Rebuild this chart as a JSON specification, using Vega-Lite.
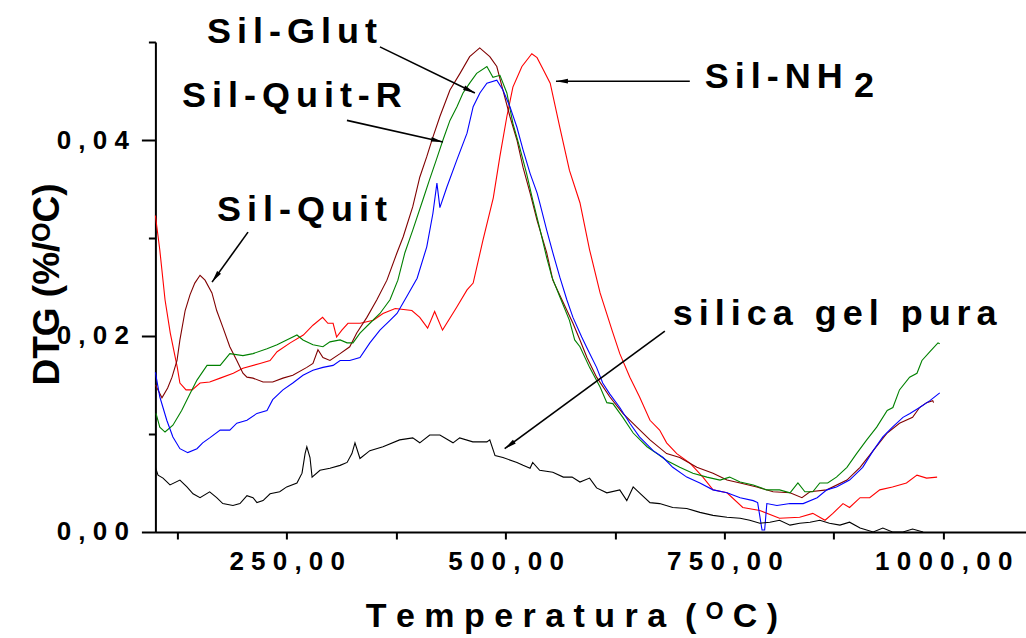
{
  "$schema": "https://vega.github.io/schema/vega-lite/v6.json",
  "width": 871,
  "height": 490,
  "autosize": "none",
  "padding": {"left": 155.4, "top": 42, "right": 0, "bottom": 106},
  "background": "white",
  "config": {"view": {"stroke": null}, "font": "Liberation Sans"},
  "datasets": {
    "curves": [
      {"s":"Sil-NH2","t":100,"d":0.0323},{"s":"Sil-NH2","t":105,"d":0.0288},{"s":"Sil-NH2","t":111,"d":0.0237},{"s":"Sil-NH2","t":117,"d":0.0203},{"s":"Sil-NH2","t":125,"d":0.0168},{"s":"Sil-NH2","t":128,"d":0.0152},{"s":"Sil-NH2","t":135,"d":0.0145},{"s":"Sil-NH2","t":142,"d":0.0145},{"s":"Sil-NH2","t":151,"d":0.0152},{"s":"Sil-NH2","t":162,"d":0.0153},{"s":"Sil-NH2","t":174,"d":0.0157},{"s":"Sil-NH2","t":189,"d":0.0162},{"s":"Sil-NH2","t":200,"d":0.0167},{"s":"Sil-NH2","t":219.5,"d":0.0172},{"s":"Sil-NH2","t":231,"d":0.0175},{"s":"Sil-NH2","t":239,"d":0.0184},{"s":"Sil-NH2","t":254,"d":0.0193},{"s":"Sil-NH2","t":269,"d":0.0201},{"s":"Sil-NH2","t":280,"d":0.0211},{"s":"Sil-NH2","t":291,"d":0.0219},{"s":"Sil-NH2","t":297,"d":0.0213},{"s":"Sil-NH2","t":303,"d":0.0213},{"s":"Sil-NH2","t":307,"d":0.0199},{"s":"Sil-NH2","t":313,"d":0.0206},{"s":"Sil-NH2","t":320,"d":0.0213},{"s":"Sil-NH2","t":334,"d":0.0213},{"s":"Sil-NH2","t":349,"d":0.0216},{"s":"Sil-NH2","t":360,"d":0.0223},{"s":"Sil-NH2","t":374,"d":0.0228},{"s":"Sil-NH2","t":393,"d":0.0226},{"s":"Sil-NH2","t":402,"d":0.0219},{"s":"Sil-NH2","t":411,"d":0.0208},{"s":"Sil-NH2","t":419,"d":0.0225},{"s":"Sil-NH2","t":428,"d":0.0206},{"s":"Sil-NH2","t":444,"d":0.0229},{"s":"Sil-NH2","t":456,"d":0.0247},{"s":"Sil-NH2","t":463,"d":0.0254},{"s":"Sil-NH2","t":474,"d":0.0297},{"s":"Sil-NH2","t":486,"d":0.0341},{"s":"Sil-NH2","t":493.5,"d":0.0383},{"s":"Sil-NH2","t":501.5,"d":0.0424},{"s":"Sil-NH2","t":508.4,"d":0.0454},{"s":"Sil-NH2","t":518.7,"d":0.0475},{"s":"Sil-NH2","t":530,"d":0.0488},{"s":"Sil-NH2","t":536,"d":0.0484},{"s":"Sil-NH2","t":543,"d":0.0472},{"s":"Sil-NH2","t":551,"d":0.0458},{"s":"Sil-NH2","t":562,"d":0.0413},{"s":"Sil-NH2","t":573,"d":0.0369},{"s":"Sil-NH2","t":585,"d":0.0336},{"s":"Sil-NH2","t":596,"d":0.0288},{"s":"Sil-NH2","t":608,"d":0.0244},{"s":"Sil-NH2","t":621.6,"d":0.0206},{"s":"Sil-NH2","t":630.5,"d":0.0182},{"s":"Sil-NH2","t":642,"d":0.0158},{"s":"Sil-NH2","t":653,"d":0.0138},{"s":"Sil-NH2","t":665,"d":0.0114},{"s":"Sil-NH2","t":676,"d":0.0104},{"s":"Sil-NH2","t":684,"d":0.0091},{"s":"Sil-NH2","t":695.6,"d":0.008},{"s":"Sil-NH2","t":711,"d":0.007},{"s":"Sil-NH2","t":725.5,"d":0.0056},{"s":"Sil-NH2","t":737,"d":0.0043},{"s":"Sil-NH2","t":753,"d":0.004},{"s":"Sil-NH2","t":771,"d":0.0025},{"s":"Sil-NH2","t":790.5,"d":0.0022},{"s":"Sil-NH2","t":813,"d":0.0014},{"s":"Sil-NH2","t":836,"d":0.0015},{"s":"Sil-NH2","t":851,"d":0.0019},{"s":"Sil-NH2","t":865,"d":0.0012},{"s":"Sil-NH2","t":874,"d":0.0019},{"s":"Sil-NH2","t":885.5,"d":0.0029},{"s":"Sil-NH2","t":893,"d":0.0025},{"s":"Sil-NH2","t":905,"d":0.0035},{"s":"Sil-NH2","t":916,"d":0.0035},{"s":"Sil-NH2","t":927.5,"d":0.0043},{"s":"Sil-NH2","t":942,"d":0.0046},{"s":"Sil-NH2","t":958,"d":0.005},{"s":"Sil-NH2","t":970,"d":0.0058},{"s":"Sil-NH2","t":981,"d":0.0055},{"s":"Sil-NH2","t":993,"d":0.0056},

      {"s":"Sil-Quit","t":100,"d":0.015},{"s":"Sil-Quit","t":103,"d":0.0145},{"s":"Sil-Quit","t":107.5,"d":0.0137},{"s":"Sil-Quit","t":114,"d":0.0147},{"s":"Sil-Quit","t":119,"d":0.0158},{"s":"Sil-Quit","t":124.7,"d":0.0175},{"s":"Sil-Quit","t":128,"d":0.0196},{"s":"Sil-Quit","t":134,"d":0.0226},{"s":"Sil-Quit","t":139.5,"d":0.0242},{"s":"Sil-Quit","t":145,"d":0.0254},{"s":"Sil-Quit","t":151,"d":0.0262},{"s":"Sil-Quit","t":156.7,"d":0.0257},{"s":"Sil-Quit","t":164.6,"d":0.0244},{"s":"Sil-Quit","t":170,"d":0.0226},{"s":"Sil-Quit","t":177,"d":0.0209},{"s":"Sil-Quit","t":185,"d":0.0189},{"s":"Sil-Quit","t":193,"d":0.0175},{"s":"Sil-Quit","t":200,"d":0.0162},{"s":"Sil-Quit","t":204.6,"d":0.0158},{"s":"Sil-Quit","t":211.5,"d":0.0157},{"s":"Sil-Quit","t":223,"d":0.0153},{"s":"Sil-Quit","t":234,"d":0.0153},{"s":"Sil-Quit","t":245.7,"d":0.0157},{"s":"Sil-Quit","t":257,"d":0.016},{"s":"Sil-Quit","t":273,"d":0.0168},{"s":"Sil-Quit","t":280,"d":0.0172},{"s":"Sil-Quit","t":285.7,"d":0.0186},{"s":"Sil-Quit","t":291.4,"d":0.0178},{"s":"Sil-Quit","t":299.4,"d":0.0175},{"s":"Sil-Quit","t":311,"d":0.0182},{"s":"Sil-Quit","t":322,"d":0.0189},{"s":"Sil-Quit","t":330,"d":0.0203},{"s":"Sil-Quit","t":341.6,"d":0.0219},{"s":"Sil-Quit","t":353,"d":0.0237},{"s":"Sil-Quit","t":364.5,"d":0.0257},{"s":"Sil-Quit","t":376,"d":0.0285},{"s":"Sil-Quit","t":383,"d":0.0301},{"s":"Sil-Quit","t":394,"d":0.0332},{"s":"Sil-Quit","t":402,"d":0.0362},{"s":"Sil-Quit","t":410,"d":0.0383},{"s":"Sil-Quit","t":417,"d":0.0403},{"s":"Sil-Quit","t":425,"d":0.0424},{"s":"Sil-Quit","t":436.5,"d":0.0451},{"s":"Sil-Quit","t":448,"d":0.0468},{"s":"Sil-Quit","t":459,"d":0.0485},{"s":"Sil-Quit","t":470.5,"d":0.0494},{"s":"Sil-Quit","t":482,"d":0.0485},{"s":"Sil-Quit","t":490,"d":0.0475},{"s":"Sil-Quit","t":497,"d":0.0451},{"s":"Sil-Quit","t":505,"d":0.0424},{"s":"Sil-Quit","t":513,"d":0.04},{"s":"Sil-Quit","t":520,"d":0.0372},{"s":"Sil-Quit","t":528,"d":0.0346},{"s":"Sil-Quit","t":536,"d":0.0318},{"s":"Sil-Quit","t":547,"d":0.0285},{"s":"Sil-Quit","t":554,"d":0.0257},{"s":"Sil-Quit","t":566,"d":0.0234},{"s":"Sil-Quit","t":577,"d":0.0213},{"s":"Sil-Quit","t":585,"d":0.0196},{"s":"Sil-Quit","t":593,"d":0.0178},{"s":"Sil-Quit","t":604,"d":0.0158},{"s":"Sil-Quit","t":619,"d":0.0138},{"s":"Sil-Quit","t":634,"d":0.0121},{"s":"Sil-Quit","t":650,"d":0.0107},{"s":"Sil-Quit","t":665,"d":0.0094},{"s":"Sil-Quit","t":684,"d":0.008},{"s":"Sil-Quit","t":699,"d":0.0076},{"s":"Sil-Quit","t":718.5,"d":0.0066},{"s":"Sil-Quit","t":737,"d":0.006},{"s":"Sil-Quit","t":753,"d":0.0053},{"s":"Sil-Quit","t":768,"d":0.005},{"s":"Sil-Quit","t":787,"d":0.0046},{"s":"Sil-Quit","t":805.6,"d":0.0041},{"s":"Sil-Quit","t":825,"d":0.004},{"s":"Sil-Quit","t":838.6,"d":0.0035},{"s":"Sil-Quit","t":847.8,"d":0.0041},{"s":"Sil-Quit","t":867,"d":0.0043},{"s":"Sil-Quit","t":890,"d":0.0053},{"s":"Sil-Quit","t":905,"d":0.0066},{"s":"Sil-Quit","t":920,"d":0.0083},{"s":"Sil-Quit","t":936,"d":0.0101},{"s":"Sil-Quit","t":950,"d":0.0111},{"s":"Sil-Quit","t":965,"d":0.0117},{"s":"Sil-Quit","t":973,"d":0.0127},{"s":"Sil-Quit","t":981,"d":0.0132},{"s":"Sil-Quit","t":988,"d":0.0134},{"s":"Sil-Quit","t":989,"d":0.0132},

      {"s":"Sil-Quit-R","t":100.7,"d":0.0121},{"s":"Sil-Quit-R","t":105,"d":0.0107},{"s":"Sil-Quit-R","t":111,"d":0.0102},{"s":"Sil-Quit-R","t":120,"d":0.0109},{"s":"Sil-Quit-R","t":130,"d":0.0124},{"s":"Sil-Quit-R","t":139.5,"d":0.0141},{"s":"Sil-Quit-R","t":147.5,"d":0.0155},{"s":"Sil-Quit-R","t":159,"d":0.017},{"s":"Sil-Quit-R","t":174,"d":0.017},{"s":"Sil-Quit-R","t":185,"d":0.0182},{"s":"Sil-Quit-R","t":200,"d":0.018},{"s":"Sil-Quit-R","t":211.5,"d":0.0182},{"s":"Sil-Quit-R","t":227.5,"d":0.0187},{"s":"Sil-Quit-R","t":239,"d":0.0191},{"s":"Sil-Quit-R","t":250,"d":0.0196},{"s":"Sil-Quit-R","t":261.7,"d":0.0201},{"s":"Sil-Quit-R","t":268.6,"d":0.0196},{"s":"Sil-Quit-R","t":280,"d":0.0191},{"s":"Sil-Quit-R","t":291.4,"d":0.0189},{"s":"Sil-Quit-R","t":299.4,"d":0.0194},{"s":"Sil-Quit-R","t":311,"d":0.0196},{"s":"Sil-Quit-R","t":319,"d":0.0193},{"s":"Sil-Quit-R","t":325.7,"d":0.0193},{"s":"Sil-Quit-R","t":333.7,"d":0.0203},{"s":"Sil-Quit-R","t":345,"d":0.0213},{"s":"Sil-Quit-R","t":356.5,"d":0.0223},{"s":"Sil-Quit-R","t":368,"d":0.0237},{"s":"Sil-Quit-R","t":377,"d":0.0257},{"s":"Sil-Quit-R","t":385,"d":0.0285},{"s":"Sil-Quit-R","t":394,"d":0.0308},{"s":"Sil-Quit-R","t":405.6,"d":0.0339},{"s":"Sil-Quit-R","t":413,"d":0.0359},{"s":"Sil-Quit-R","t":421,"d":0.038},{"s":"Sil-Quit-R","t":428.5,"d":0.04},{"s":"Sil-Quit-R","t":436.5,"d":0.042},{"s":"Sil-Quit-R","t":444.5,"d":0.0434},{"s":"Sil-Quit-R","t":451.4,"d":0.0448},{"s":"Sil-Quit-R","t":459,"d":0.0458},{"s":"Sil-Quit-R","t":467,"d":0.0468},{"s":"Sil-Quit-R","t":478.7,"d":0.0475},{"s":"Sil-Quit-R","t":485.6,"d":0.0464},{"s":"Sil-Quit-R","t":493.6,"d":0.0466},{"s":"Sil-Quit-R","t":501.5,"d":0.0448},{"s":"Sil-Quit-R","t":508.4,"d":0.0417},{"s":"Sil-Quit-R","t":516,"d":0.0393},{"s":"Sil-Quit-R","t":524,"d":0.0366},{"s":"Sil-Quit-R","t":531,"d":0.0339},{"s":"Sil-Quit-R","t":539,"d":0.031},{"s":"Sil-Quit-R","t":547,"d":0.028},{"s":"Sil-Quit-R","t":553,"d":0.026},{"s":"Sil-Quit-R","t":562,"d":0.024},{"s":"Sil-Quit-R","t":573,"d":0.0216},{"s":"Sil-Quit-R","t":579,"d":0.0196},{"s":"Sil-Quit-R","t":585,"d":0.0189},{"s":"Sil-Quit-R","t":596,"d":0.0168},{"s":"Sil-Quit-R","t":608,"d":0.0148},{"s":"Sil-Quit-R","t":615.7,"d":0.0132},{"s":"Sil-Quit-R","t":622.6,"d":0.0131},{"s":"Sil-Quit-R","t":634,"d":0.0117},{"s":"Sil-Quit-R","t":645.8,"d":0.0101},{"s":"Sil-Quit-R","t":661.6,"d":0.0087},{"s":"Sil-Quit-R","t":673,"d":0.008},{"s":"Sil-Quit-R","t":684,"d":0.0073},{"s":"Sil-Quit-R","t":699,"d":0.0066},{"s":"Sil-Quit-R","t":714,"d":0.006},{"s":"Sil-Quit-R","t":730,"d":0.0056},{"s":"Sil-Quit-R","t":745,"d":0.0053},{"s":"Sil-Quit-R","t":756,"d":0.0056},{"s":"Sil-Quit-R","t":768,"d":0.0051},{"s":"Sil-Quit-R","t":783,"d":0.0048},{"s":"Sil-Quit-R","t":798,"d":0.0043},{"s":"Sil-Quit-R","t":813,"d":0.0043},{"s":"Sil-Quit-R","t":825,"d":0.004},{"s":"Sil-Quit-R","t":834,"d":0.005},{"s":"Sil-Quit-R","t":842,"d":0.0041},{"s":"Sil-Quit-R","t":851,"d":0.0041},{"s":"Sil-Quit-R","t":859,"d":0.005},{"s":"Sil-Quit-R","t":868,"d":0.005},{"s":"Sil-Quit-R","t":878,"d":0.0056},{"s":"Sil-Quit-R","t":890,"d":0.0066},{"s":"Sil-Quit-R","t":901,"d":0.008},{"s":"Sil-Quit-R","t":912.6,"d":0.0094},{"s":"Sil-Quit-R","t":924,"d":0.0107},{"s":"Sil-Quit-R","t":936,"d":0.0124},{"s":"Sil-Quit-R","t":942.5,"d":0.0127},{"s":"Sil-Quit-R","t":950,"d":0.0145},{"s":"Sil-Quit-R","t":961.6,"d":0.0158},{"s":"Sil-Quit-R","t":970,"d":0.0162},{"s":"Sil-Quit-R","t":975.7,"d":0.0175},{"s":"Sil-Quit-R","t":984.8,"d":0.0184},{"s":"Sil-Quit-R","t":994,"d":0.0193},{"s":"Sil-Quit-R","t":996,"d":0.0192},

      {"s":"Sil-Glut","t":100,"d":0.0163},{"s":"Sil-Glut","t":105,"d":0.0138},{"s":"Sil-Glut","t":113,"d":0.0114},{"s":"Sil-Glut","t":120,"d":0.0097},{"s":"Sil-Glut","t":128,"d":0.0085},{"s":"Sil-Glut","t":137,"d":0.0081},{"s":"Sil-Glut","t":147.5,"d":0.0085},{"s":"Sil-Glut","t":154,"d":0.0091},{"s":"Sil-Glut","t":162,"d":0.0096},{"s":"Sil-Glut","t":174,"d":0.0104},{"s":"Sil-Glut","t":185,"d":0.0104},{"s":"Sil-Glut","t":193,"d":0.0111},{"s":"Sil-Glut","t":204.6,"d":0.0114},{"s":"Sil-Glut","t":216,"d":0.0121},{"s":"Sil-Glut","t":227.5,"d":0.0124},{"s":"Sil-Glut","t":234,"d":0.0135},{"s":"Sil-Glut","t":245.7,"d":0.0145},{"s":"Sil-Glut","t":257,"d":0.0152},{"s":"Sil-Glut","t":268.6,"d":0.016},{"s":"Sil-Glut","t":280,"d":0.0165},{"s":"Sil-Glut","t":291.4,"d":0.0168},{"s":"Sil-Glut","t":303,"d":0.017},{"s":"Sil-Glut","t":311,"d":0.0175},{"s":"Sil-Glut","t":322,"d":0.0175},{"s":"Sil-Glut","t":333.7,"d":0.0178},{"s":"Sil-Glut","t":345,"d":0.0193},{"s":"Sil-Glut","t":356.5,"d":0.0206},{"s":"Sil-Glut","t":368,"d":0.0216},{"s":"Sil-Glut","t":376,"d":0.0223},{"s":"Sil-Glut","t":387,"d":0.024},{"s":"Sil-Glut","t":399,"d":0.0259},{"s":"Sil-Glut","t":410,"d":0.0291},{"s":"Sil-Glut","t":417,"d":0.0325},{"s":"Sil-Glut","t":421.6,"d":0.0356},{"s":"Sil-Glut","t":425,"d":0.0331},{"s":"Sil-Glut","t":433,"d":0.0352},{"s":"Sil-Glut","t":444.5,"d":0.038},{"s":"Sil-Glut","t":456,"d":0.0407},{"s":"Sil-Glut","t":463,"d":0.0434},{"s":"Sil-Glut","t":470.7,"d":0.0448},{"s":"Sil-Glut","t":478.7,"d":0.0458},{"s":"Sil-Glut","t":490,"d":0.0461},{"s":"Sil-Glut","t":497,"d":0.0451},{"s":"Sil-Glut","t":505,"d":0.0434},{"s":"Sil-Glut","t":513,"d":0.0413},{"s":"Sil-Glut","t":520,"d":0.039},{"s":"Sil-Glut","t":528,"d":0.0366},{"s":"Sil-Glut","t":536,"d":0.0346},{"s":"Sil-Glut","t":539,"d":0.0336},{"s":"Sil-Glut","t":547,"d":0.0308},{"s":"Sil-Glut","t":554,"d":0.0285},{"s":"Sil-Glut","t":562,"d":0.026},{"s":"Sil-Glut","t":570,"d":0.0237},{"s":"Sil-Glut","t":577,"d":0.0219},{"s":"Sil-Glut","t":587,"d":0.0199},{"s":"Sil-Glut","t":594,"d":0.0186},{"s":"Sil-Glut","t":604,"d":0.0168},{"s":"Sil-Glut","t":611,"d":0.0152},{"s":"Sil-Glut","t":619,"d":0.0141},{"s":"Sil-Glut","t":630.5,"d":0.0127},{"s":"Sil-Glut","t":642,"d":0.0111},{"s":"Sil-Glut","t":653,"d":0.0097},{"s":"Sil-Glut","t":668.6,"d":0.0083},{"s":"Sil-Glut","t":680,"d":0.0076},{"s":"Sil-Glut","t":691,"d":0.0066},{"s":"Sil-Glut","t":707,"d":0.0056},{"s":"Sil-Glut","t":722,"d":0.005},{"s":"Sil-Glut","t":737,"d":0.0043},{"s":"Sil-Glut","t":753,"d":0.004},{"s":"Sil-Glut","t":768,"d":0.0035},{"s":"Sil-Glut","t":783,"d":0.0032},{"s":"Sil-Glut","t":788,"d":0.003},{"s":"Sil-Glut","t":793,"d":0.0002},{"s":"Sil-Glut","t":796,"d":0.0002},{"s":"Sil-Glut","t":798.5,"d":0.0029},{"s":"Sil-Glut","t":810,"d":0.0027},{"s":"Sil-Glut","t":825,"d":0.0029},{"s":"Sil-Glut","t":840,"d":0.0029},{"s":"Sil-Glut","t":856,"d":0.0035},{"s":"Sil-Glut","t":867,"d":0.0043},{"s":"Sil-Glut","t":878,"d":0.0046},{"s":"Sil-Glut","t":893,"d":0.0053},{"s":"Sil-Glut","t":908,"d":0.0066},{"s":"Sil-Glut","t":920,"d":0.0083},{"s":"Sil-Glut","t":931,"d":0.0097},{"s":"Sil-Glut","t":942,"d":0.0107},{"s":"Sil-Glut","t":954,"d":0.0117},{"s":"Sil-Glut","t":962,"d":0.0121},{"s":"Sil-Glut","t":973,"d":0.0127},{"s":"Sil-Glut","t":984.8,"d":0.0134},{"s":"Sil-Glut","t":996,"d":0.0142},

      {"s":"silica gel pura","t":100,"d":0.0066},{"s":"silica gel pura","t":103,"d":0.0058},{"s":"silica gel pura","t":108.7,"d":0.0055},{"s":"silica gel pura","t":116.7,"d":0.0048},{"s":"silica gel pura","t":128,"d":0.0053},{"s":"silica gel pura","t":136,"d":0.0046},{"s":"silica gel pura","t":143,"d":0.0039},{"s":"silica gel pura","t":151,"d":0.0035},{"s":"silica gel pura","t":162,"d":0.0041},{"s":"silica gel pura","t":170,"d":0.0035},{"s":"silica gel pura","t":177,"d":0.0029},{"s":"silica gel pura","t":188.6,"d":0.0027},{"s":"silica gel pura","t":196.6,"d":0.0029},{"s":"silica gel pura","t":204.6,"d":0.0037},{"s":"silica gel pura","t":211.5,"d":0.0035},{"s":"silica gel pura","t":216,"d":0.003},{"s":"silica gel pura","t":223,"d":0.0032},{"s":"silica gel pura","t":231,"d":0.0039},{"s":"silica gel pura","t":242,"d":0.0041},{"s":"silica gel pura","t":250,"d":0.0046},{"s":"silica gel pura","t":261.7,"d":0.005},{"s":"silica gel pura","t":267.5,"d":0.006},{"s":"silica gel pura","t":271,"d":0.008},{"s":"silica gel pura","t":273,"d":0.0087},{"s":"silica gel pura","t":276.6,"d":0.0076},{"s":"silica gel pura","t":279,"d":0.0056},{"s":"silica gel pura","t":288,"d":0.0063},{"s":"silica gel pura","t":299.4,"d":0.0065},{"s":"silica gel pura","t":311,"d":0.0068},{"s":"silica gel pura","t":319,"d":0.0071},{"s":"silica gel pura","t":324.5,"d":0.008},{"s":"silica gel pura","t":328,"d":0.0091},{"s":"silica gel pura","t":333.7,"d":0.0075},{"s":"silica gel pura","t":345,"d":0.0083},{"s":"silica gel pura","t":360,"d":0.0087},{"s":"silica gel pura","t":379,"d":0.0094},{"s":"silica gel pura","t":394,"d":0.0096},{"s":"silica gel pura","t":402,"d":0.0091},{"s":"silica gel pura","t":413.4,"d":0.0099},{"s":"silica gel pura","t":425,"d":0.0099},{"s":"silica gel pura","t":440,"d":0.0091},{"s":"silica gel pura","t":447.6,"d":0.0096},{"s":"silica gel pura","t":462.6,"d":0.0092},{"s":"silica gel pura","t":478.7,"d":0.0092},{"s":"silica gel pura","t":482,"d":0.0094},{"s":"silica gel pura","t":488,"d":0.0078},{"s":"silica gel pura","t":497,"d":0.0076},{"s":"silica gel pura","t":513,"d":0.0071},{"s":"silica gel pura","t":520,"d":0.0068},{"s":"silica gel pura","t":528,"d":0.0065},{"s":"silica gel pura","t":531,"d":0.0071},{"s":"silica gel pura","t":539,"d":0.0063},{"s":"silica gel pura","t":554,"d":0.0061},{"s":"silica gel pura","t":566,"d":0.0056},{"s":"silica gel pura","t":576,"d":0.0056},{"s":"silica gel pura","t":585,"d":0.0051},{"s":"silica gel pura","t":596,"d":0.0055},{"s":"silica gel pura","t":604,"d":0.0045},{"s":"silica gel pura","t":615.7,"d":0.004},{"s":"silica gel pura","t":630.5,"d":0.0043},{"s":"silica gel pura","t":638.5,"d":0.0032},{"s":"silica gel pura","t":645.8,"d":0.0046},{"s":"silica gel pura","t":653,"d":0.004},{"s":"silica gel pura","t":665,"d":0.003},{"s":"silica gel pura","t":676,"d":0.0029},{"s":"silica gel pura","t":691,"d":0.0025},{"s":"silica gel pura","t":707,"d":0.0024},{"s":"silica gel pura","t":722,"d":0.002},{"s":"silica gel pura","t":737,"d":0.0017},{"s":"silica gel pura","t":753,"d":0.0015},{"s":"silica gel pura","t":768,"d":0.0014},{"s":"silica gel pura","t":779,"d":0.0012},{"s":"silica gel pura","t":790.5,"d":0.0009},{"s":"silica gel pura","t":802,"d":0.001},{"s":"silica gel pura","t":813,"d":0.0012},{"s":"silica gel pura","t":825,"d":0.0007},{"s":"silica gel pura","t":836,"d":0.0009},{"s":"silica gel pura","t":847.8,"d":0.001},{"s":"silica gel pura","t":859,"d":0.0012},{"s":"silica gel pura","t":870,"d":0.0009},{"s":"silica gel pura","t":882,"d":0.0007},{"s":"silica gel pura","t":893,"d":0.001},{"s":"silica gel pura","t":905,"d":0.0004},{"s":"silica gel pura","t":920,"d":0.0},{"s":"silica gel pura","t":931,"d":0.0004},{"s":"silica gel pura","t":942,"d":0.0},{"s":"silica gel pura","t":954,"d":0.0},{"s":"silica gel pura","t":965,"d":0.0003},{"s":"silica gel pura","t":977,"d":0.0}
    ],
    "arrows": [
      {"label":"Sil-Glut","t1":356.5,"d1":0.0495,"t2":465,"d2":0.0448},
      {"label":"Sil-Quit-R","t1":318.8,"d1":0.042,"t2":428.5,"d2":0.0398},
      {"label":"Sil-Quit","t1":205.8,"d1":0.0306,"t2":164.7,"d2":0.0255},
      {"label":"Sil-NH2","t1":710.5,"d1":0.046,"t2":557.6,"d2":0.046},
      {"label":"silica gel pura","t1":682,"d1":0.0205,"t2":499,"d2":0.0085}
    ],
    "notes": [
      {"name":"Sil-Glut","t":159,"d":0.0499},
      {"name":"Sil-Quit-R","t":130.4,"d":0.0434},
      {"name":"Sil-Quit","t":170.4,"d":0.0317},
      {"name":"Sil-NH","t":727.6,"d":0.0453},
      {"name":"2","t":898,"d":0.0444},
      {"name":"silica gel pura","t":691,"d":0.0211}
    ]
  },
  "layer": [
    {
      "data": {"name": "curves"},
      "mark": {"type": "line", "strokeWidth": 1.1, "interpolate": "linear"},
      "encoding": {
        "x": {
          "field": "t", "type": "quantitative",
          "scale": {"domain": [100, 1095], "nice": false, "zero": false},
          "axis": {
            "values": [125, 250, 375, 500, 625, 750, 875, 1000],
            "labelExpr": "datum.value % 250 == 0 ? join(split(replace(format(datum.value, '.2f'), '.', ','), ''), ' ') : ''",
            "labelFont": "Liberation Sans", "labelFontSize": 26, "labelFontWeight": "bold", "labelColor": "black",
            "labelPadding": 10, "labelFlush": false, "labelOverlap": false,
            "tickSize": 7, "tickWidth": 2, "tickColor": "black",
            "domainWidth": 2, "domainColor": "black", "grid": false,
            "title": "T e m p e r a t u r a  \u00a0( ᴼ C )",
            "titleFont": "Liberation Sans", "titleFontSize": 34, "titleFontWeight": "bold", "titleColor": "black",
            "titleX": 416, "titleY": 95, "titleBaseline": "alphabetic", "titleAlign": "center", "titleAnchor": null
          }
        },
        "y": {
          "field": "d", "type": "quantitative",
          "scale": {"domain": [0, 0.05], "nice": false, "zero": false},
          "axis": {
            "values": [0, 0.01, 0.02, 0.03, 0.04, 0.05],
            "labelExpr": "round(datum.value * 100) % 2 == 0 ? join(split(replace(format(datum.value, '.2f'), '.', ','), ''), ' ') : ''",
            "labelFont": "Liberation Sans", "labelFontSize": 26, "labelFontWeight": "bold", "labelColor": "black",
            "labelPadding": 13, "labelFlush": false, "labelOverlap": false, "labelBaseline": "middle",
            "tickSize": {"condition": {"test": "round(datum.value * 100) % 2 == 1", "value": 7}, "value": 14},
            "tickWidth": 2, "tickColor": "black",
            "domainWidth": 2, "domainColor": "black", "grid": false,
            "title": "DTG (%/ᴼC)",
            "titleFont": "Liberation Sans", "titleFontSize": 37, "titleFontWeight": "bold", "titleColor": "black",
            "titleX": -97, "titleY": 242, "titleBaseline": "alphabetic", "titleAlign": "center", "titleAngle": -90, "titleAnchor": null
          }
        },
        "color": {
          "field": "s", "type": "nominal", "legend": null,
          "scale": {"domain": ["Sil-NH2", "Sil-Quit", "Sil-Quit-R", "Sil-Glut", "silica gel pura"], "range": ["#ff0000", "#800000", "#008000", "#0000ff", "#000000"]}
        }
      }
    },
    {
      "data": {"name": "arrows"},
      "mark": {"type": "rule", "color": "black", "strokeWidth": 1.6},
      "encoding": {
        "x": {"field": "t1", "type": "quantitative"},
        "y": {"field": "d1", "type": "quantitative"},
        "x2": {"field": "t2"},
        "y2": {"field": "d2"}
      }
    },
    {
      "data": {"name": "arrows"},
      "transform": [{"filter": "datum.label == 'Sil-Glut'"}],
      "mark": {"type": "point", "shape": "M0,0L0.4,2L-0.4,2Z", "filled": true, "color": "black", "opacity": 1, "size": 144, "angle": 115.8},
      "encoding": {"x": {"field": "t2", "type": "quantitative"}, "y": {"field": "d2", "type": "quantitative"}}
    },
    {
      "data": {"name": "arrows"},
      "transform": [{"filter": "datum.label == 'Sil-Quit-R'"}],
      "mark": {"type": "point", "shape": "M0,0L0.4,2L-0.4,2Z", "filled": true, "color": "black", "opacity": 1, "size": 144, "angle": 102.9},
      "encoding": {"x": {"field": "t2", "type": "quantitative"}, "y": {"field": "d2", "type": "quantitative"}}
    },
    {
      "data": {"name": "arrows"},
      "transform": [{"filter": "datum.label == 'Sil-Quit'"}],
      "mark": {"type": "point", "shape": "M0,0L0.4,2L-0.4,2Z", "filled": true, "color": "black", "opacity": 1, "size": 144, "angle": 215.8},
      "encoding": {"x": {"field": "t2", "type": "quantitative"}, "y": {"field": "d2", "type": "quantitative"}}
    },
    {
      "data": {"name": "arrows"},
      "transform": [{"filter": "datum.label == 'Sil-NH2'"}],
      "mark": {"type": "point", "shape": "M0,0L0.4,2L-0.4,2Z", "filled": true, "color": "black", "opacity": 1, "size": 144, "angle": 270},
      "encoding": {"x": {"field": "t2", "type": "quantitative"}, "y": {"field": "d2", "type": "quantitative"}}
    },
    {
      "data": {"name": "arrows"},
      "transform": [{"filter": "datum.label == 'silica gel pura'"}],
      "mark": {"type": "point", "shape": "M0,0L0.4,2L-0.4,2Z", "filled": true, "color": "black", "opacity": 1, "size": 144, "angle": 233.8},
      "encoding": {"x": {"field": "t2", "type": "quantitative"}, "y": {"field": "d2", "type": "quantitative"}}
    },
    {
      "data": {"name": "notes"},
      "transform": [{"calculate": "join(split(datum.name, ''), '\u2006')", "as": "shown"}],
      "mark": {"type": "text", "align": "left", "baseline": "alphabetic", "font": "Liberation Sans", "fontSize": 36, "fontWeight": "bold", "color": "black"},
      "encoding": {
        "x": {"field": "t", "type": "quantitative"},
        "y": {"field": "d", "type": "quantitative"},
        "text": {"field": "shown"}
      }
    }
  ]
}
